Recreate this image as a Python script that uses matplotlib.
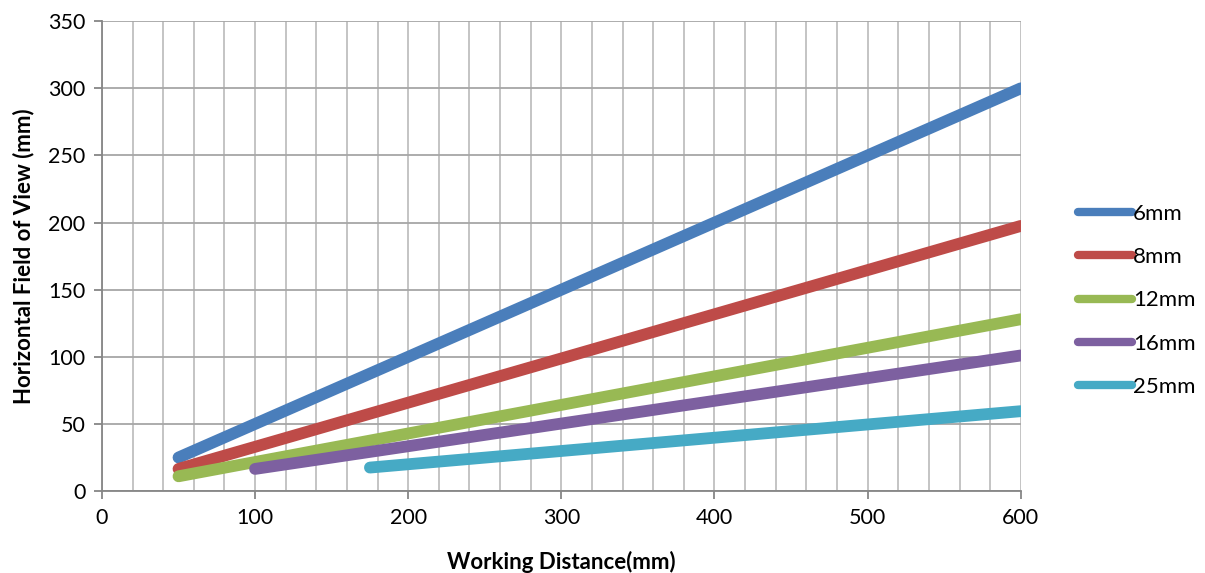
import matplotlib
matplotlib.use("Agg")
from matplotlib import pyplot as plt
from matplotlib.ticker import MultipleLocator

plt.rcParams["font.family"] = ["Lato", "DejaVu Sans"]

# working distance endpoints (mm) and horizontal field of view (mm)
lenses = ["6mm", "8mm", "12mm", "16mm", "25mm"]
wd_6 = [50, 600]
fov_6 = [25, 300]
wd_8 = [50, 600]
fov_8 = [16.5, 197.5]
wd_12 = [50, 600]
fov_12 = [11, 128]
wd_16 = [100, 600]
fov_16 = [16.5, 101]
wd_25 = [175, 600]
fov_25 = [17.5, 59.5]

colors = ["#4A7EBB", "#BE4B48", "#98B954", "#7D60A0", "#46AAC5"]
series = [(wd_6, fov_6), (wd_8, fov_8), (wd_12, fov_12), (wd_16, fov_16), (wd_25, fov_25)]

fig = plt.figure(figsize=(12.05, 5.73), dpi=100)
ax = fig.add_axes([0.0846, 0.143, 0.7625, 0.820])

for (xs, ys), name, c in zip(series, lenses, colors):
    ax.plot(xs, ys, color=c, lw=8.5, solid_capstyle="round", label=name, zorder=3)

ax.set_xlim(0, 600)
ax.set_ylim(0, 350)
ax.xaxis.set_major_locator(MultipleLocator(100))
ax.xaxis.set_minor_locator(MultipleLocator(20))
ax.yaxis.set_major_locator(MultipleLocator(50))

ax.grid(True, which="both", axis="x", color="#BFBFBF", lw=1.3, zorder=0)
ax.grid(True, which="major", axis="y", color="#A6A6A6", lw=1.3, zorder=0)

for s in ["top", "right"]:
    ax.spines[s].set_visible(False)
for s in ["left", "bottom"]:
    ax.spines[s].set_color("#868686")
    ax.spines[s].set_linewidth(1.3)

ax.tick_params(axis="both", which="major", direction="out", length=6, width=1.3,
               color="#868686", labelsize=15.5, pad=6)
ax.tick_params(axis="x", which="minor", length=0)

ax.set_xlabel("Working Distance(mm)", fontsize=16, fontweight="bold", labelpad=17)
ax.set_ylabel("Horizontal Field of View (mm)", fontsize=16, fontweight="bold", labelpad=10)

leg = ax.legend(loc="center left", bbox_to_anchor=(1.040, 0.406), frameon=False,
                fontsize=16, handlelength=2.45, handletextpad=0.05, labelspacing=1.05)
for h in leg.get_lines():
    h.set_solid_capstyle("round")
    h.set_linewidth(6)

fig.savefig("out.png", dpi=100)
